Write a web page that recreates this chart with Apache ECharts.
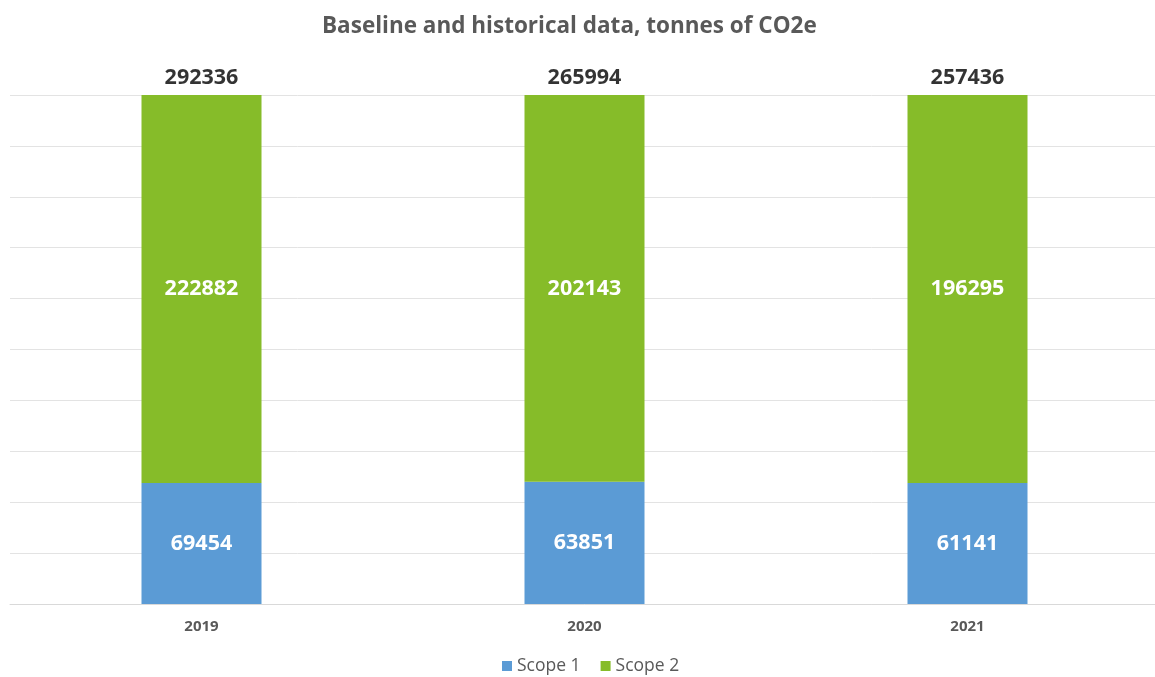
<!DOCTYPE html>
<html>
<head>
<meta charset="utf-8">
<script src="https://cdn.jsdelivr.net/npm/echarts@6/dist/echarts.min.js"></script>
<style>
  html, body { margin: 0; padding: 0; background: #fff; overflow: hidden; }
  #main { width: 1159px; height: 677px; }
</style>
</head>
<body>
<div id="main"></div>
<script>
// data
const years = ['2019', '2020', '2021'];
const scope1 = [69454, 63851, 61141];
const scope2 = [222882, 202143, 196295];
const totals = [292336, 265994, 257436];

// 100% stacked: share of each year's total
const pct = (arr) => arr.map((v, i) => v / (scope1[i] + scope2[i]) * 100);

const FONT = '"Open Sans", Lato, sans-serif';

const chart = echarts.init(document.getElementById('main'));
chart.setOption({
    animation: false,
    textStyle: {fontFamily: FONT},
    title: {
        text: 'Baseline and historical data, tonnes of CO2e',
        left: 317,
        top: 10,
        textStyle: {fontFamily: FONT, fontSize: 22.5, fontWeight: 'bold', color: '#595959'}
    },
    legend: {
        data: ['Scope 1', 'Scope 2'],
        top: 652,
        left: 497,
        itemWidth: 10,
        itemHeight: 10,
        itemGap: 20,
        icon: 'rect',
        textStyle: {fontFamily: FONT, fontSize: 17.5, color: '#595959'}
    },
    grid: {left: 10, right: 0, top: 95, bottom: 73},
    xAxis: {
        type: 'category',
        data: years,
        axisTick: {show: false},
        axisLine: {lineStyle: {color: '#d9d9d9', width: 1}},
        axisLabel: {margin: 15, fontSize: 15, fontWeight: 'bold', color: '#595959', fontFamily: FONT}
    },
    yAxis: {
        type: 'value',
        min: 0,
        max: 100,
        interval: 10,
        axisLabel: {show: false},
        axisLine: {show: false},
        axisTick: {show: false},
        splitLine: {lineStyle: {color: '#e3e3e3', width: 1}}
    },
    series: [
        {
            name: 'Scope 1',
            type: 'bar',
            stack: 'total',
            barWidth: 120,
            itemStyle: {color: '#5B9BD5'},
            label: {
                show: true,
                position: 'inside',
                color: '#fff',
                fontSize: 21.5,
                fontWeight: 'bold',
                fontFamily: FONT,
                formatter: (p) => scope1[p.dataIndex]
            },
            data: pct(scope1)
        },
        {
            name: 'Scope 2',
            type: 'bar',
            stack: 'total',
            barWidth: 120,
            itemStyle: {color: '#86BC29'},
            label: {
                show: true,
                position: 'inside',
                color: '#fff',
                fontSize: 21.5,
                fontWeight: 'bold',
                fontFamily: FONT,
                formatter: (p) => scope2[p.dataIndex]
            },
            data: pct(scope2)
        },
        {
            name: 'Total',
            type: 'scatter',
            symbolSize: 0,
            silent: true,
            label: {
                show: true,
                position: 'top',
                distance: 6,
                color: '#000',
                fontSize: 21.5,
                fontWeight: 'bold',
                fontFamily: FONT,
                formatter: (p) => totals[p.dataIndex]
            },
            data: totals.map(() => 100)
        }
    ]
});
</script>
</body>
</html>
